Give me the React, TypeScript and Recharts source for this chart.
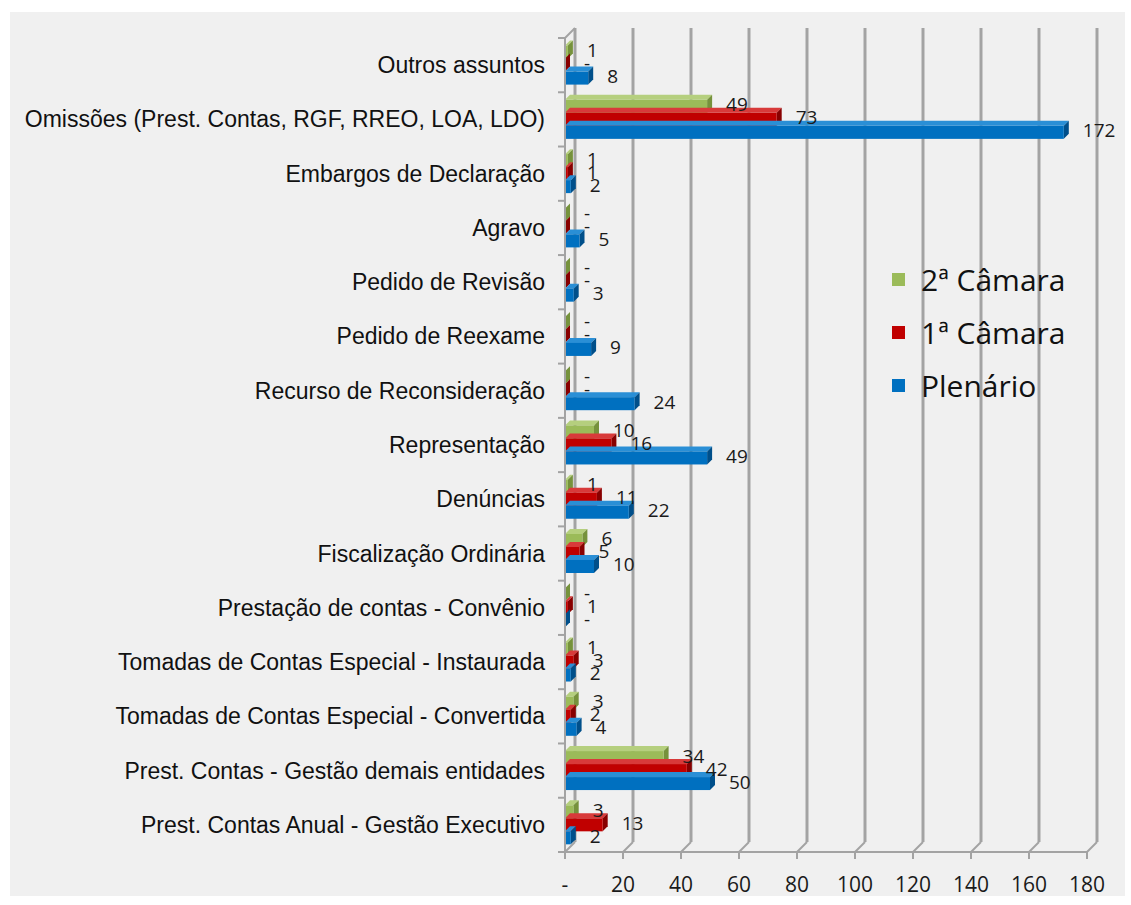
import { BarChart, Bar, XAxis, YAxis, CartesianGrid, LabelList } from "recharts";

const categories = [
  "Outros assuntos",
  "Omissões (Prest. Contas, RGF, RREO, LOA, LDO)",
  "Embargos de Declaração",
  "Agravo",
  "Pedido de Revisão",
  "Pedido de Reexame",
  "Recurso de Reconsideração",
  "Representação",
  "Denúncias",
  "Fiscalização Ordinária",
  "Prestação de contas - Convênio",
  "Tomadas de Contas Especial - Instaurada",
  "Tomadas de Contas Especial - Convertida",
  "Prest. Contas - Gestão demais entidades",
  "Prest. Contas Anual - Gestão Executivo",
];
const camara2 = [1, 49, 1, 0, 0, 0, 0, 10, 1, 6, 0, 1, 3, 34, 3];
const camara1 = [0, 73, 1, 0, 0, 0, 0, 16, 11, 5, 1, 3, 2, 42, 13];
const plenario = [8, 172, 2, 5, 3, 9, 24, 49, 22, 10, 0, 2, 4, 50, 2];
const xTicks = [0, 20, 40, 60, 80, 100, 120, 140, 160, 180];

const series = [
  { key: "c2", name: "2ª Câmara", color: "#9bbb59", top: "#b5cf7e", side: "#76923c" },
  { key: "c1", name: "1ª Câmara", color: "#c00000", top: "#d83a3a", side: "#880000" },
  { key: "pl", name: "Plenário", color: "#0070c0", top: "#2a8fd6", side: "#004f8a" },
];

const data = categories.map((name, i) => ({
  name,
  c2: camara2[i],
  c1: camara1[i],
  pl: plenario[i],
}));

// layout
const W = 1131;
const H = 905;
const AXIS_X = 565;
const PLOT_TOP = 38;
const PLOT_BOTTOM = 852;
const PLOT_RIGHT = 1087;
const BAND = (PLOT_BOTTOM - PLOT_TOP) / categories.length;
const DEPTH = 10; // recuo da parede do fundo
const D = 5; // profundidade das barras
const GRID = "#a3a3a3";

const fmt = (v: number) => (v === 0 ? "-" : String(v));

function Bar3D(color: string, top: string, side: string) {
  return (p: any) => {
    const { x, y, width, height } = p;
    const w = Math.max(0, width || 0);
    return (
      <g>
        <polygon
          points={`${x},${y} ${x + D},${y - D} ${x + w + D},${y - D} ${x + w},${y}`}
          fill={top}
        />
        <polygon
          points={`${x + w},${y} ${x + w + D},${y - D} ${x + w + D},${y + height - D} ${x + w},${y + height}`}
          fill={side}
        />
        <rect x={x} y={y} width={w} height={height} fill={color} />
      </g>
    );
  };
}

const valueLabel = (p: any) => {
  const { x, y, width, height, value } = p;
  return (
    <text
      x={x + Math.max(0, width) + D + 14}
      y={y + height / 2 - 2}
      dominantBaseline="central"
      fontFamily="Open Sans"
      fontSize={19}
      fill="#1a1a1a"
    >
      {fmt(value)}
    </text>
  );
};

const CategoryTick = (p: any) => {
  const { x, y, payload, index } = p;
  const last = index === categories.length - 1;
  return (
    <g>
      <text
        x={x}
        y={y}
        textAnchor="end"
        dominantBaseline="central"
        fontFamily="Liberation Sans"
        fontSize={23}
        fill="#111"
      >
        {payload.value}
      </text>
      <line x1={AXIS_X - 7} x2={AXIS_X} y1={y - BAND / 2} y2={y - BAND / 2} stroke={GRID} strokeWidth={2} />
      {last && (
        <line x1={AXIS_X - 7} x2={AXIS_X} y1={y + BAND / 2} y2={y + BAND / 2} stroke={GRID} strokeWidth={2} />
      )}
      {index === 0 && (
        <line
          x1={AXIS_X}
          y1={PLOT_TOP}
          x2={AXIS_X + DEPTH}
          y2={PLOT_TOP - DEPTH}
          stroke={GRID}
          strokeWidth={2}
        />
      )}
    </g>
  );
};

const ValueTick = (p: any) => {
  const { x, payload } = p;
  return (
    <g>
      <line x1={x} x2={x} y1={PLOT_BOTTOM} y2={PLOT_BOTTOM + 7} stroke={GRID} strokeWidth={2} />
      <line
        x1={x}
        y1={PLOT_BOTTOM}
        x2={x + DEPTH}
        y2={PLOT_BOTTOM - DEPTH}
        stroke={GRID}
        strokeWidth={2}
      />
      <text
        x={x}
        y={PLOT_BOTTOM + 32}
        textAnchor="middle"
        dominantBaseline="central"
        fontFamily="Open Sans"
        fontSize={21}
        fill="#1a1a1a"
      >
        {fmt(payload.value)}
      </text>
    </g>
  );
};

const gridLine = (p: any) => (
  <line
    key={p.key}
    x1={p.x1 + DEPTH}
    y1={p.y1 - DEPTH}
    x2={p.x2 + DEPTH}
    y2={p.y2 - DEPTH}
    stroke={GRID}
    strokeWidth={3}
  />
);

const LegendBox = () => (
  <div
    style={{
      position: "absolute",
      left: 892,
      top: 253,
      fontFamily: "Open Sans",
      fontSize: 30,
      color: "#111",
    }}
  >
    {series.map(s => (
      <div key={s.key} style={{ display: "flex", alignItems: "center", height: 53 }}>
        <span
          style={{
            display: "inline-block",
            width: 13,
            height: 13,
            background: s.color,
            marginRight: 16,
          }}
        />
        {s.name}
      </div>
    ))}
  </div>
);

export default function App() {
  return (
    <div style={{ position: "relative", width: W, height: H, background: "#fff" }}>
      <style>{`body{margin:0}`}</style>
      <div
        style={{
          position: "absolute",
          left: 10,
          top: 12,
          width: 1115,
          height: 884,
          background: "#f0f0f0",
        }}
      />
      <div style={{ position: "absolute", left: 0, top: 0 }}>
        <BarChart
          width={W}
          height={H}
          data={data}
          layout="vertical"
          margin={{ top: PLOT_TOP, right: W - PLOT_RIGHT, bottom: 0, left: 0 }}
          barCategoryGap="14%"
          barGap={0}
        >
          <CartesianGrid horizontal={false} vertical={gridLine} />
          <XAxis
            type="number"
            domain={[0, 180]}
            ticks={xTicks}
            height={H - PLOT_BOTTOM}
            axisLine={{ stroke: GRID, strokeWidth: 2 }}
            tickLine={false}
            tick={<ValueTick />}
            interval={0}
          />
          <YAxis
            type="category"
            dataKey="name"
            width={AXIS_X}
            axisLine={{ stroke: GRID, strokeWidth: 2 }}
            tickLine={false}
            tickSize={0}
            tickMargin={20}
            tick={<CategoryTick />}
            interval={0}
          />
          {series.map(s => (
            <Bar
              key={s.key}
              dataKey={s.key}
              name={s.name}
              fill={s.color}
              shape={Bar3D(s.color, s.top, s.side)}
              isAnimationActive={false}
            >
              <LabelList dataKey={s.key} content={valueLabel} />
            </Bar>
          ))}
        </BarChart>
      </div>
      <LegendBox />
    </div>
  );
}
